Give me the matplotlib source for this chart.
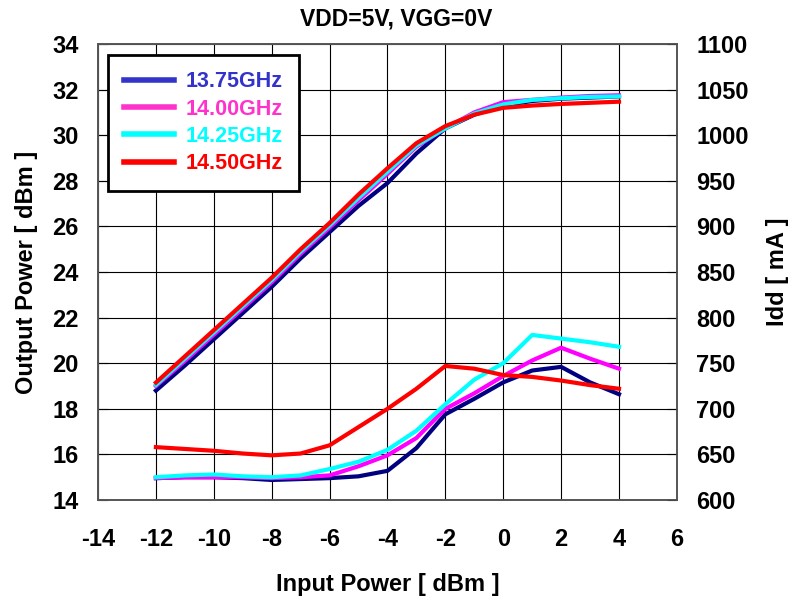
import matplotlib
matplotlib.use("Agg")
import matplotlib.pyplot as plt
from matplotlib.lines import Line2D

plt.rcParams["font.family"] = ["Liberation Sans", "DejaVu Sans"]
plt.rcParams["font.weight"] = "bold"
plt.rcParams["axes.unicode_minus"] = False

# input power sweep, dBm
pin = [-12, -11, -10, -9, -8, -7, -6, -5, -4, -3, -2, -1, 0, 1, 2, 3, 4]

labels = ["13.75GHz", "14.00GHz", "14.25GHz", "14.50GHz"]
line_colors = ["#000080", "#ff00ff", "#00ffff", "#ff0000"]
legend_colors = ["#3333cc", "#ff33cc", "#00ffff", "#ff0000"]

# output power, dBm
pout_1375 = [18.8, 19.9, 21.05, 22.2, 23.35, 24.6, 25.75, 26.9, 27.9, 29.2, 30.3, 30.9, 31.3, 31.5, 31.6, 31.65, 31.7]
pout_1400 = [19.0, 20.1, 21.25, 22.4, 23.55, 24.8, 25.95, 27.15, 28.3, 29.5, 30.3, 31.0, 31.45, 31.55, 31.65, 31.72, 31.75]
pout_1425 = [19.05, 20.2, 21.35, 22.5, 23.65, 24.9, 26.05, 27.25, 28.4, 29.55, 30.3, 30.95, 31.35, 31.55, 31.62, 31.68, 31.7]
pout_1450 = [19.15, 20.3, 21.45, 22.6, 23.75, 25.0, 26.15, 27.4, 28.55, 29.65, 30.4, 30.9, 31.2, 31.3, 31.37, 31.42, 31.47]

# drain current, mA
idd_1375 = [624, 625, 625, 624, 622, 623, 624, 626, 632, 657, 694, 711, 729, 742, 746, 729, 716]
idd_1400 = [624, 625, 625, 625, 624, 625, 627, 637, 649, 668, 700, 717, 736, 753, 767, 755, 744]
idd_1425 = [625, 627, 628, 626, 625, 627, 634, 642, 655, 676, 705, 732, 750, 781, 777, 773, 768]
idd_1450 = [658, 656, 654, 651, 649, 651, 660, 680, 700, 722, 747, 744, 737, 735, 731, 726, 722]

pouts = [pout_1375, pout_1400, pout_1425, pout_1450]
idds = [idd_1375, idd_1400, idd_1425, idd_1450]

fig = plt.figure(figsize=(7.93, 6.01), dpi=100)
ax1 = fig.add_axes([0.1236, 0.168, 0.730, 0.7588])
ax2 = ax1.twinx()

for p, i, c in zip(pouts, idds, line_colors):
    ax1.plot(pin, p, color=c, lw=3, solid_joinstyle="round")
    ax2.plot(pin, i, color=c, lw=3, solid_joinstyle="round")

ax1.set_xlim(-14, 6)
ax1.set_ylim(14, 34)
ax2.set_ylim(600, 1100)
ax1.set_xticks(range(-14, 7, 2))
ax1.set_yticks(range(14, 35, 2))
ax2.set_yticks(range(600, 1101, 50))

ax1.grid(True, color="black", lw=0.8)
ax1.set_axisbelow(True)

for ax in (ax1, ax2):
    for s in ax.spines.values():
        s.set_color("#555555")
        s.set_linewidth(1.2)
ax1.tick_params(axis="x", direction="in", length=0, labelsize=17, pad=20)
ax1.tick_params(axis="y", direction="in", length=7, labelsize=17, pad=14)
ax2.tick_params(axis="y", direction="in", length=7, labelsize=17, pad=14)

ax1.set_xlabel("Input Power [ dBm ]", fontsize=17, fontweight="bold", labelpad=16)
ax1.set_ylabel("Output Power [ dBm ]", fontsize=17, fontweight="bold", labelpad=10)
ax2.set_ylabel("Idd [ mA ]", fontsize=17, fontweight="bold", labelpad=12)
fig.text(0.5, 0.968, "VDD=5V, VGG=0V", ha="center", va="center", fontsize=16.5, fontweight="bold")

handles = [Line2D([], [], color=c, lw=4) for c in legend_colors]
leg = ax2.legend(handles, labels, loc="upper left", bbox_to_anchor=(0.017, 0.976),
                 borderaxespad=0, fancybox=False, framealpha=1, edgecolor="black",
                 fontsize=15.5, handlelength=2.3, handletextpad=0.55, labelspacing=0.3,
                 borderpad=0.75, labelcolor=legend_colors)
leg.get_frame().set_linewidth(2)
for t in leg.get_texts():
    t.set_fontweight("bold")

fig.savefig("out.png", dpi=100)
